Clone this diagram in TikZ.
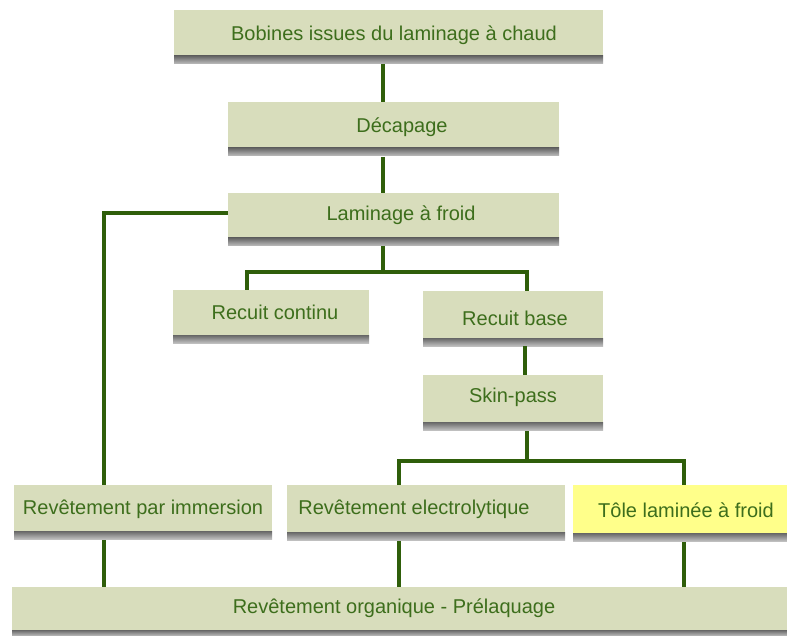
\documentclass[tikz,border=0pt]{standalone}
\usepackage{fontspec}
\setmainfont{Liberation Sans}
\usetikzlibrary{fit}
\definecolor{boxfill}{HTML}{D8DDBC}
\definecolor{yellowfill}{HTML}{FFFF8A}
\definecolor{txtgreen}{HTML}{3D6E1C}
\definecolor{linegreen}{HTML}{2F5E0A}
\tikzset{
  boxshape/.style={inner sep=0pt, outer sep=0pt, draw=none},
  txt/.style={font=\fontsize{20}{24}\selectfont, text=txtgreen, inner sep=0pt},
  conn/.style={draw=linegreen, line width=3.5pt, line cap=butt, line join=miter},
  shadowstrip/.style={top color=black!60, middle color=black!80, bottom color=black!25}
}
\newcommand\mybox[6]{%
  \node[boxshape, fill=#6, fit={(#2,#3) (#4,#5)}] (#1) {};
  \shade[shadowstrip] (#1.south west) rectangle ([yshift=-8pt]#1.south east);
}
\begin{document}
\begin{tikzpicture}[x=1pt,y=-1pt]
\useasboundingbox (0,0) rectangle (787,636);
% boxes
\mybox{b1}{174}{10}{603}{56}{boxfill}
\mybox{dec}{228}{102}{559}{148}{boxfill}
\mybox{lam}{228}{193}{559}{238}{boxfill}
\mybox{rc}{173}{290}{369}{335}{boxfill}
\mybox{rb}{423}{291}{603}{338}{boxfill}
\mybox{sp}{423}{375}{603}{422}{boxfill}
\mybox{ri}{14}{485}{272}{531}{boxfill}
\mybox{re}{287}{485}{565}{532}{boxfill}
\mybox{tl}{573}{485}{787}{533}{yellowfill}
\node[boxshape, fill=boxfill, fit={(12,587) (787,630)}] (ro) {};
\shade[shadowstrip] (ro.south west) rectangle (787,636);
% texts
\node[txt] (t1) at (394,35) {Bobines issues du laminage à chaud};
\node[txt] (t2) at (402,127) {Décapage};
\node[txt] (t3) at (401,215) {Laminage à froid};
\node[txt] (t4) at (275,312) {Recuit continu};
\node[txt] (t5) at (515,318) {Recuit base};
\node[txt] (t6) at (513,397) {Skin-pass};
\node[txt] (t7) at (143,509) {Revêtement par immersion};
\node[txt] (t8) at (414,509) {Revêtement electrolytique};
\node[txt] (t9) at (686,510) {Tôle laminée à froid};
\node[txt] (t10) at (394,608) {Revêtement organique - Prélaquage};
% column coordinates
\coordinate (x383) at (383,0);
\coordinate (x104) at (104,0);
\coordinate (x247) at (247,0);
\coordinate (x527) at (527,0);
\coordinate (x525) at (525,0);
\coordinate (x399) at (399,0);
\coordinate (x684) at (684,0);
\coordinate (y272) at (0,272);
\coordinate (y461) at (0,461);
\coordinate (y213) at (0,213);
% connectors
\draw[conn] (b1.south -| x383) ++(0,8) -- (dec.north -| x383);
\draw[conn] (dec.south -| x383) ++(0,9) -- (lam.north -| x383);
\draw[conn] (lam.west |- y213) -- (x104 |- y213) -- (ri.north -| x104);
\draw[conn] (lam.south -| x383) ++(0,8) -- (x383 |- y272);
\draw[conn] (rc.north -| x247) -- (x247 |- y272) -- (x527 |- y272) -- (rb.north -| x527);
\draw[conn] (rb.south -| x525) ++(0,8) -- (sp.north -| x525);
\draw[conn] (sp.south -| x527) ++(0,9) -- (x527 |- y461);
\draw[conn] (re.north -| x399) -- (x399 |- y461) -- (x684 |- y461) -- (tl.north -| x684);
\draw[conn] (ri.south -| x104) ++(0,9) -- (ro.north -| x104);
\draw[conn] (re.south -| x399) ++(0,9) -- (ro.north -| x399);
\draw[conn] (tl.south -| x684) ++(0,9) -- (ro.north -| x684);
\end{tikzpicture}
\end{document}
